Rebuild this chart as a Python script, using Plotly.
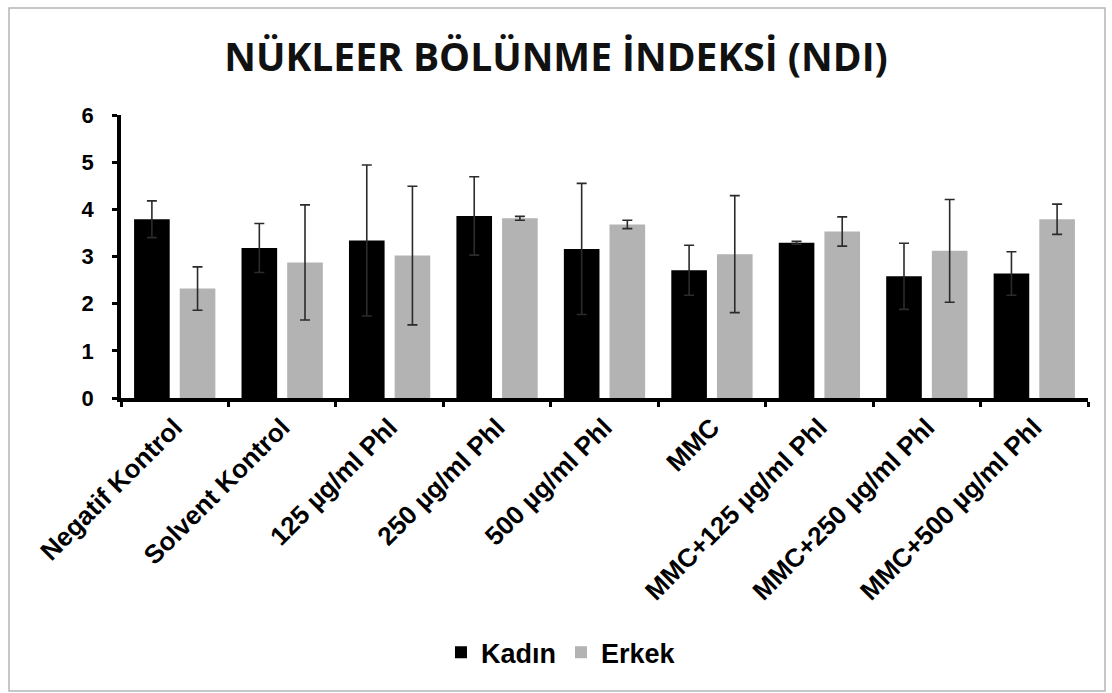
import plotly.graph_objects as go

categories = ["Negatif Kontrol", "Solvent Kontrol", "125 µg/ml Phl", "250 µg/ml Phl",
              "500 µg/ml Phl", "MMC", "MMC+125 µg/ml Phl", "MMC+250 µg/ml Phl",
              "MMC+500 µg/ml Phl"]
kadin = [3.79, 3.18, 3.34, 3.86, 3.16, 2.71, 3.29, 2.58, 2.64]
kadin_err = [0.39, 0.52, 1.60, 0.83, 1.39, 0.53, 0.03, 0.70, 0.46]
erkek = [2.32, 2.875, 3.02, 3.81, 3.68, 3.05, 3.53, 3.12, 3.79]
erkek_err = [0.46, 1.22, 1.47, 0.04, 0.09, 1.24, 0.31, 1.09, 0.32]
y_ticks = [0, 1, 2, 3, 4, 5, 6]

ERR_COLOR = "#2b2b2b"

fig = go.Figure()
fig.add_trace(go.Bar(
    x=categories, y=kadin, name="Kadın", marker=dict(color="#000000", line=dict(width=0)),
    error_y=dict(type="data", array=kadin_err, visible=True, color=ERR_COLOR, thickness=1.6, width=5),
))
fig.add_trace(go.Bar(
    x=categories, y=erkek, name="Erkek", marker=dict(color="#b3b3b3", line=dict(width=0)),
    error_y=dict(type="data", array=erkek_err, visible=True, color=ERR_COLOR, thickness=1.6, width=5),
))

fig.update_layout(
    width=1112, height=693,
    paper_bgcolor="white", plot_bgcolor="white",
    margin=dict(l=121, r=24, t=115, b=295),
    barmode="group", bargap=0.15, bargroupgap=0.22,
    title=dict(text="<b>NÜKLEER BÖLÜNME İNDEKSİ (NDI)</b>", x=0.5, xanchor="center",
               y=1 - 57 / 693, yanchor="middle",
               font=dict(family="Open Sans", size=39, color="#111111")),
    font=dict(family="Liberation Sans", color="#000000"),
    legend=dict(orientation="h", x=0.455, xanchor="center", y=-0.90, yanchor="middle",
                font=dict(family="Liberation Sans", size=27, color="#000000", weight="bold"),
                itemwidth=30, tracegroupgap=0, traceorder="normal"),
    showlegend=True,
)
fig.update_yaxes(
    range=[0, 6], tickvals=y_ticks, showgrid=False, zeroline=False,
    showline=True, linecolor="black", linewidth=3.5,
    ticks="outside", ticklen=5, tickwidth=3, tickcolor="black",
    ticklabelstandoff=14,
    tickfont=dict(family="Liberation Sans", size=22, color="#000000", weight="bold"),
)
fig.update_xaxes(
    showgrid=False, showline=True, linecolor="black", linewidth=3.5,
    ticks="outside", ticklen=5, tickwidth=3, tickcolor="black", tickson="boundaries",
    tickangle=-45,
    tickfont=dict(family="Liberation Sans", size=26, color="#000000", weight="bold"),
)
fig.add_shape(type="rect", xref="paper", yref="paper",
              x0=(9 - 121) / 967, x1=(1105 - 121) / 967,
              y0=(398 - 691) / 283, y1=(398 - 8) / 283,
              line=dict(color="#b5b5b5", width=1.5), fillcolor="rgba(0,0,0,0)")

fig.write_html("out.html", config={"displayModeBar": False},
               post_script="document.body.style.margin='0px';")
